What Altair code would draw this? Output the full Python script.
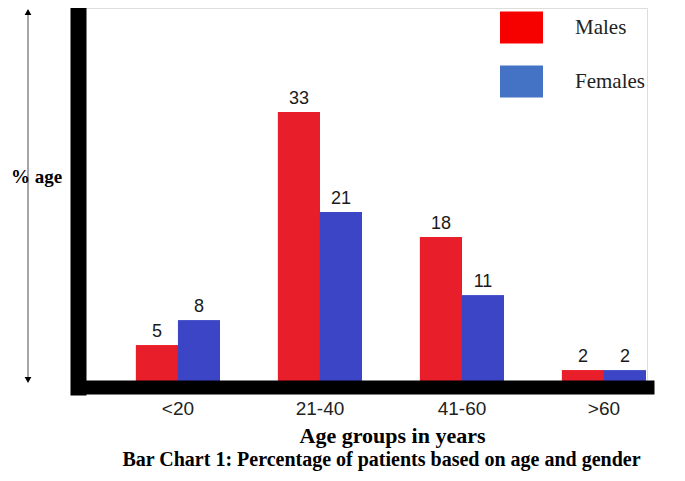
import altair as alt
import pandas as pd

# ---- data ----
age_groups = ["<20", "21-40", "41-60", ">60"]
genders = ["Males", "Females"]
males = [5, 33, 18, 2]
females = [8, 21, 11, 2]

bar_colors = ["#e81f2a", "#3c45c6"]
legend_colors = ["#f70000", "#4472c4"]

rows = []
for i, a in enumerate(age_groups):
    rows.append({"age": a, "gender": "Males", "pct": males[i]})
    rows.append({"age": a, "gender": "Females", "pct": females[i]})
df = pd.DataFrame(rows)

W, H = 569, 379

x_enc = alt.X(
    "age:N",
    sort=age_groups,
    scale=alt.Scale(paddingInner=0.408, paddingOuter=0.2075, align=0.983),
    axis=alt.Axis(
        title="Age groups in years",
        titleX=314, titleY=55, titleAlign="center", titleBaseline="alphabetic",
        titleFont="Liberation Serif", titleFontSize=22, titleFontWeight="bold",
        titleColor="black",
        labelAngle=0, labelFont="Liberation Sans", labelFontSize=19,
        labelColor="#222", labelBaseline="alphabetic", labelPadding=27,
        ticks=False, tickSize=0,
        domainColor="black", domainWidth=14, domainCap="square",
        zindex=2,
    ),
)
xoff_enc = alt.XOffset("gender:N", sort=genders,
                       scale=alt.Scale(paddingInner=0, paddingOuter=0))
y_enc = alt.Y(
    "pct:Q",
    scale=alt.Scale(domain=[0, 45.5], nice=False, zero=True),
    axis=alt.Axis(
        title="% age", titleAngle=0, titleX=-42, titleY=168,
        titleAlign="center", titleBaseline="middle",
        titleFont="Liberation Serif", titleFontSize=19, titleFontWeight="bold",
        titleColor="black",
        labels=False, ticks=False, grid=False,
        domainColor="black", domainWidth=16, domainCap="square",
        zindex=2,
    ),
)

base = alt.Chart(df)

legend_layer = base.mark_bar().encode(
    x=x_enc, xOffset=xoff_enc, y=y_enc,
    fill=alt.Fill(
        "gender:N", sort=genders,
        scale=alt.Scale(domain=genders, range=legend_colors),
        legend=alt.Legend(
            orient="none", legendX=422, legendY=-2, title=None, padding=0,
            symbolType="M-1,-0.744L1,-0.744L1,0.744L-1,0.744Z",
            symbolSize=1849, symbolStrokeWidth=0, symbolOpacity=1,
            labelFont="Liberation Serif", labelFontSize=21, labelColor="#222",
            labelOffset=32, rowPadding=16,
        ),
    ),
)

bars = base.mark_bar().encode(
    x=x_enc, xOffset=xoff_enc, y=y_enc,
    color=alt.Color("gender:N", sort=genders,
                    scale=alt.Scale(domain=genders, range=bar_colors),
                    legend=None),
)

labels = base.mark_text(
    baseline="alphabetic", dy=-8, font="Liberation Sans", fontSize=18,
    color="#1a1a1a",
).encode(x=x_enc, xOffset=xoff_enc, y=y_enc, text="pct:Q")

deco = alt.Chart(pd.DataFrame({"k": [0]}))
arrow_line = deco.mark_rule(color="#888888", strokeWidth=1.5).encode(
    x=alt.value(-50), y=alt.value(6), y2=alt.value(371))
arrow_up = deco.mark_point(shape="triangle-up", filled=True, color="black",
                           size=45, opacity=1).encode(
    x=alt.value(-50), y=alt.value(4))
arrow_down = deco.mark_point(shape="triangle-down", filled=True, color="black",
                             size=45, opacity=1).encode(
    x=alt.value(-50), y=alt.value(372))

chart = alt.layer(
    legend_layer, bars, labels, arrow_line, arrow_up, arrow_down
).properties(
    width=W, height=H,
    padding={"left": 70, "top": 0, "right": 30, "bottom": 86},
    autosize=alt.AutoSizeParams(type="none"),
    title=alt.TitleParams(
        "Bar Chart 1: Percentage of patients based on age and gender",
        orient="bottom", anchor="middle", dx=19, offset=4,
        font="Liberation Serif", fontSize=20, fontWeight="bold", color="black",
    ),
).configure_view(stroke=None).configure(background="white")

chart.save("out.html", embed_options={"renderer": "svg", "actions": False})
